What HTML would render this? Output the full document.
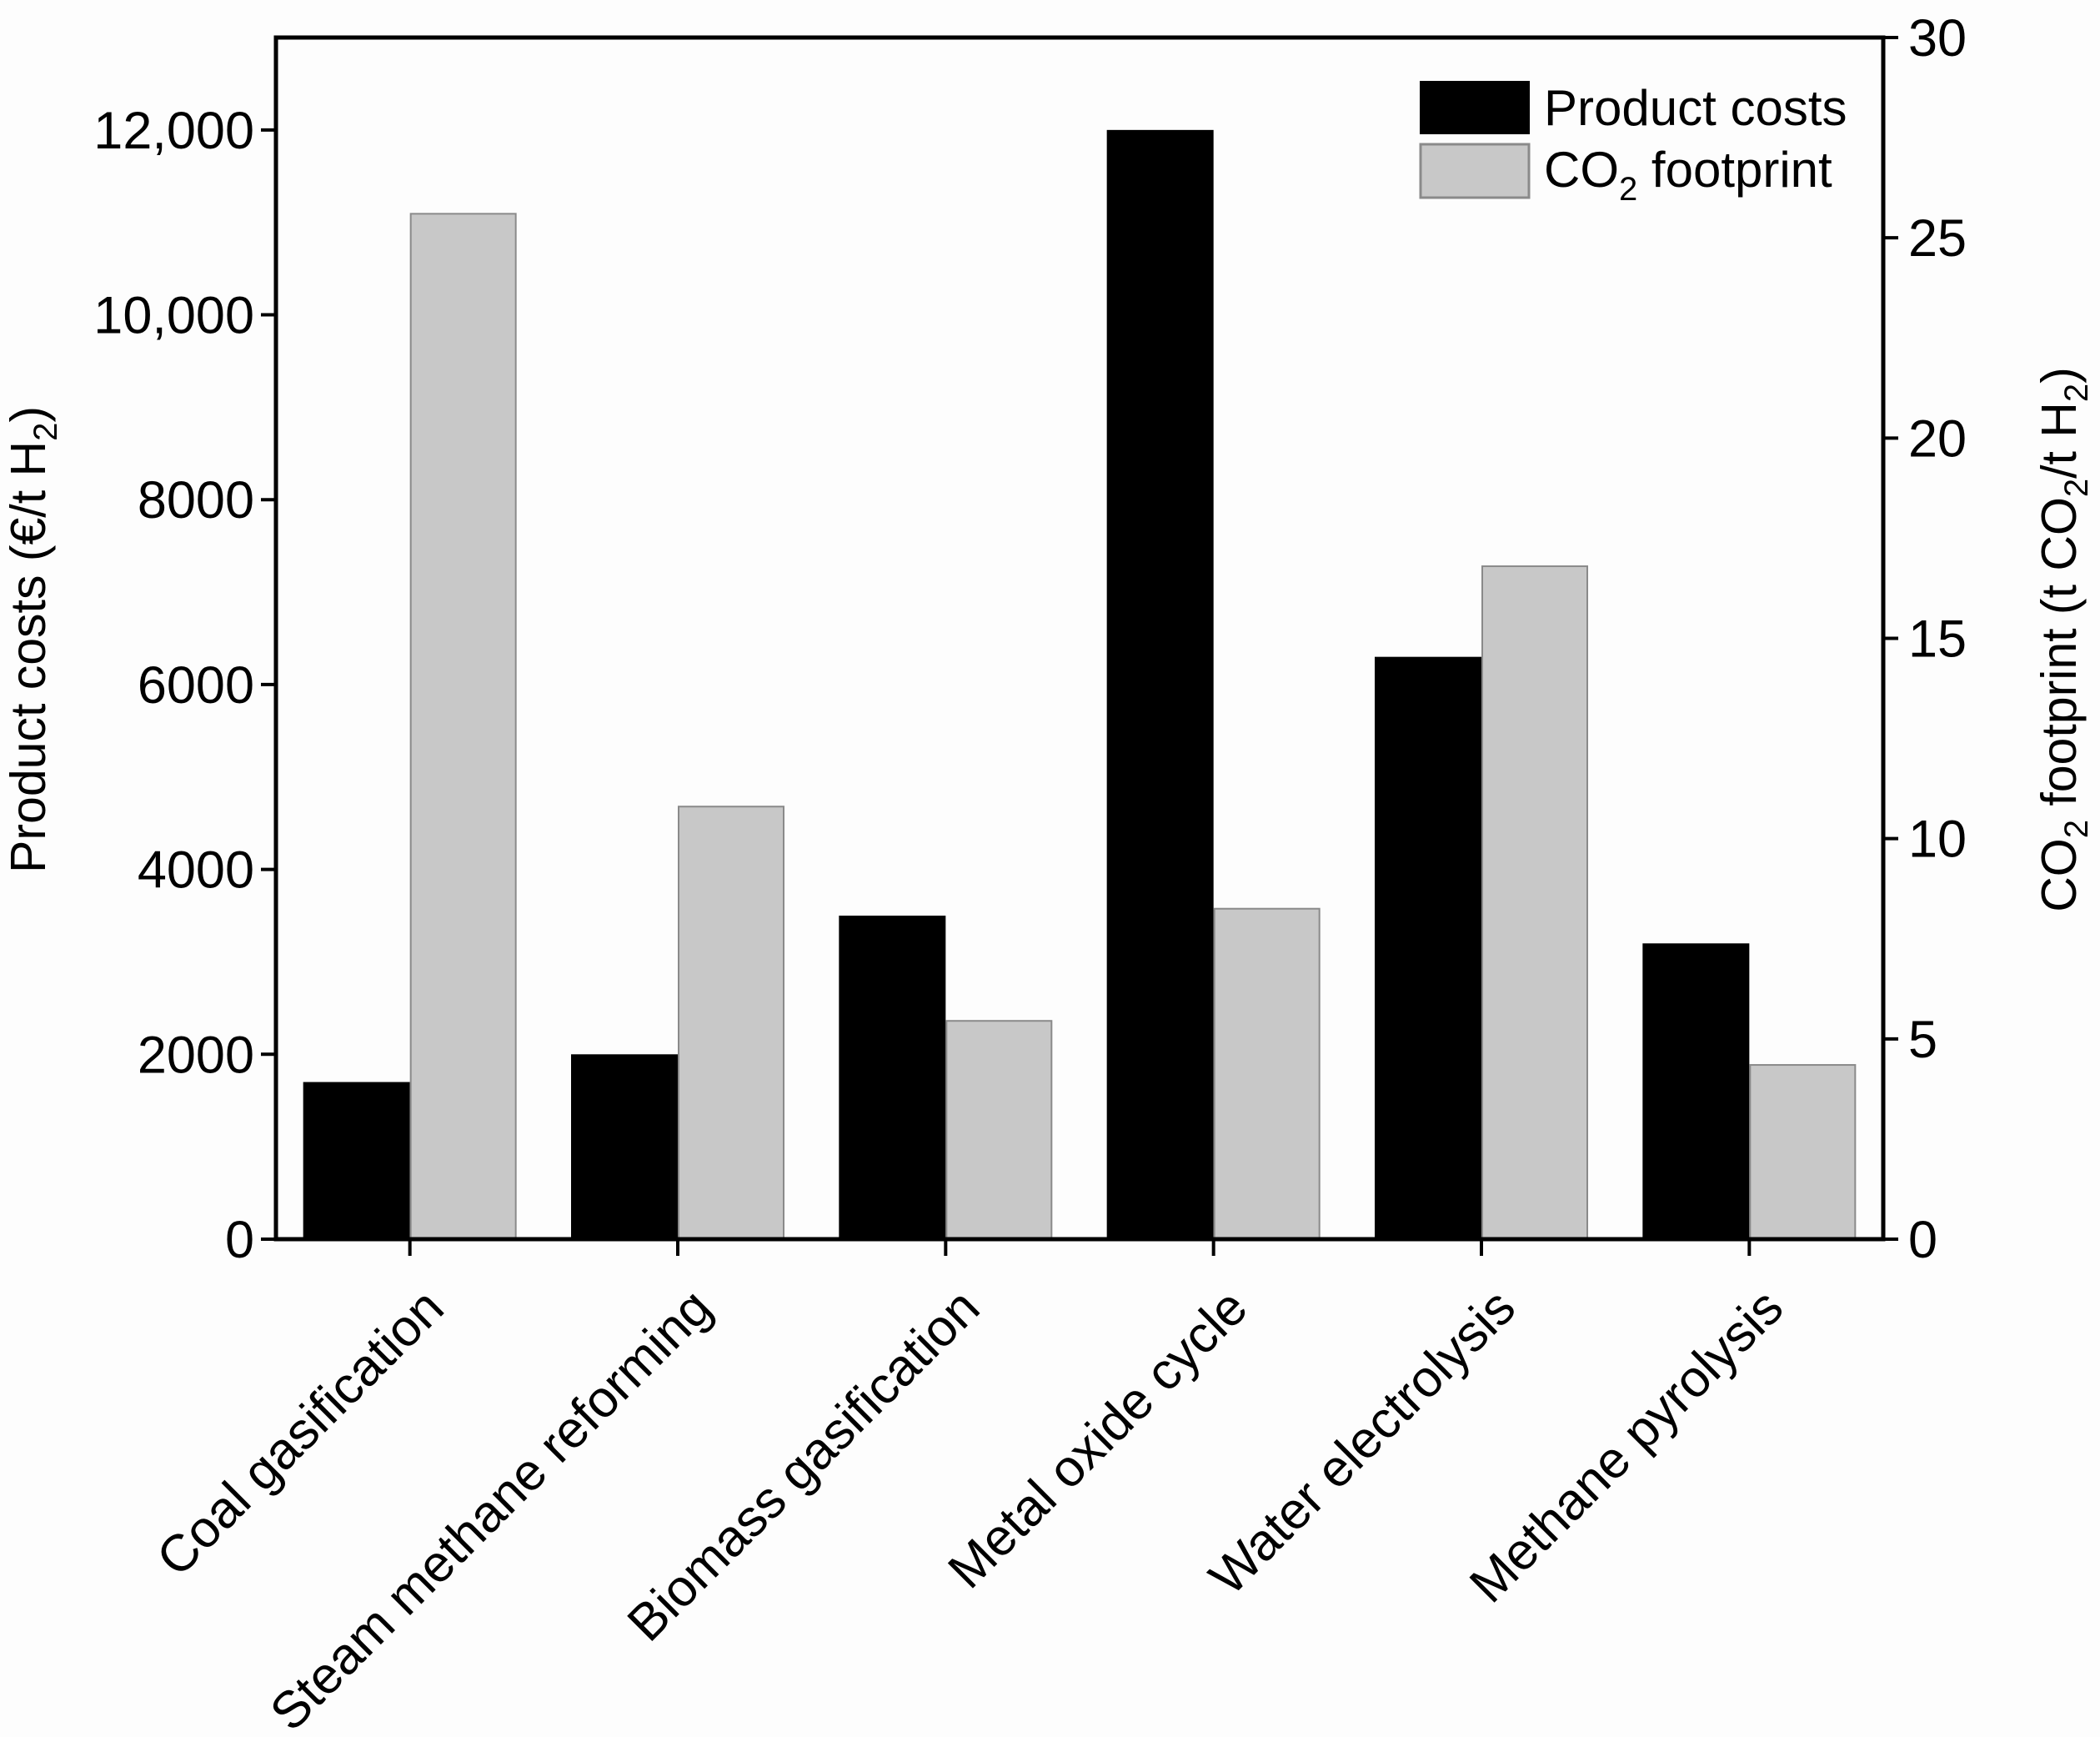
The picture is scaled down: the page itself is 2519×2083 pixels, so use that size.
<!DOCTYPE html>
<html><head><meta charset="utf-8"><style>
html,body{margin:0;padding:0;background:#fdfdfd;}
svg{display:block;font-family:"Liberation Sans",Arial,sans-serif;}
</style></head><body>
<svg id="chart" width="2519" height="2083" viewBox="0 0 2519 2083">
<g id="bars"></g>
<g id="axes"></g>
<g>
  <rect x="1703" y="97" width="132" height="64" fill="#000"/>
  <text x="1852" y="150" font-size="60">Product costs</text>
  <rect x="1704" y="173" width="130" height="64" fill="#c8c8c8" stroke="#8a8a8a" stroke-width="3"/>
  <text x="1852" y="224" font-size="60">CO<tspan font-size="40" dy="16">2</tspan><tspan dy="-16"> footprint</tspan></text>
</g>
<text transform="translate(54,767) rotate(-90)" text-anchor="middle" font-size="59">Product costs (€/t H<tspan font-size="40" dy="14">2</tspan><tspan dy="-14">)</tspan></text>
<text transform="translate(2490,767) rotate(-90)" text-anchor="middle" font-size="59">CO<tspan font-size="40" dy="14">2</tspan><tspan dy="-14"> footprint (t CO</tspan><tspan font-size="40" dy="14">2</tspan><tspan dy="-14">/t H</tspan><tspan font-size="40" dy="14">2</tspan><tspan dy="-14">)</tspan></text>
</svg>
<script>
const categories = ["Coal gasification","Steam methane reforming","Biomass gasification","Metal oxide cycle","Water electrolysis","Methane pyrolysis"];
const productCosts = [1700, 2000, 3500, 12000, 6300, 3200];
const co2Footprint = [25.6, 10.8, 5.45, 8.25, 16.8, 4.35];
const leftTicks = [0, 2000, 4000, 6000, 8000, 10000, 12000];
const leftTickLabels = ["0","2000","4000","6000","8000","10,000","12,000"];
const rightTicks = [0, 5, 10, 15, 20, 25, 30];

const NS = "http://www.w3.org/2000/svg";
const X0 = 331, X1 = 2259, YT = 45, YB = 1486;
const yLeft = v => YB - v / 13000 * (YB - YT);
const yRight = v => YB - v / 30 * (YB - YT);
const groupW = (X1 - X0) / categories.length;
const xCenter = i => X0 + groupW * (i + 0.5);
const barW = 128;

function mk(tag, attrs, parent) {
  const el = document.createElementNS(NS, tag);
  for (const k in attrs) el.setAttribute(k, attrs[k]);
  parent.appendChild(el);
  return el;
}
const bars = document.getElementById('bars');
const axes = document.getElementById('axes');

categories.forEach((c, i) => {
  const cx = xCenter(i);
  const b = mk('rect', {x: cx - barW, y: yLeft(productCosts[i]), width: barW, height: YB - yLeft(productCosts[i]), fill: '#000'}, bars);
  
  
  const g = mk('rect', {x: cx + 1, y: yRight(co2Footprint[i]), width: barW - 2, height: YB - yRight(co2Footprint[i]), fill: '#c8c8c8', stroke: '#8a8a8a', 'stroke-width': 2}, bars);
  
  
  const t = mk('line', {x1: cx, x2: cx, y1: YB, y2: YB + 20, stroke: '#000', 'stroke-width': 4}, axes);
  
  
  const lbl = mk('text', {'text-anchor': 'end', 'font-size': 62, transform: `translate(${cx + 44},${YB + 86}) rotate(-45)`}, axes);
  lbl.textContent = c;
  
  
});

const frame = mk('path', {d: `M${X0},${YB} L${X0},${YT} L${X1},${YT} L${X1},${YB} Z`, fill: 'none', stroke: '#000', 'stroke-width': 5}, axes);



leftTicks.forEach((v, i) => {
  const y = yLeft(v);
  const t = mk('line', {x1: X0 - 18, x2: X0, y1: y, y2: y, stroke: '#000', 'stroke-width': 4}, axes);
  
  
  const l = mk('text', {x: X0 - 26, y: y + 22, 'text-anchor': 'end', 'font-size': 63}, axes);
  l.textContent = leftTickLabels[i];
  
  
});
rightTicks.forEach(v => {
  const y = yRight(v);
  const t = mk('line', {x1: X1, x2: X1 + 18, y1: y, y2: y, stroke: '#000', 'stroke-width': 4}, axes);
  
  
  const l = mk('text', {x: X1 + 30, y: y + 22, 'font-size': 63}, axes);
  l.textContent = String(v);
  
  
});
</script>
</body></html>
